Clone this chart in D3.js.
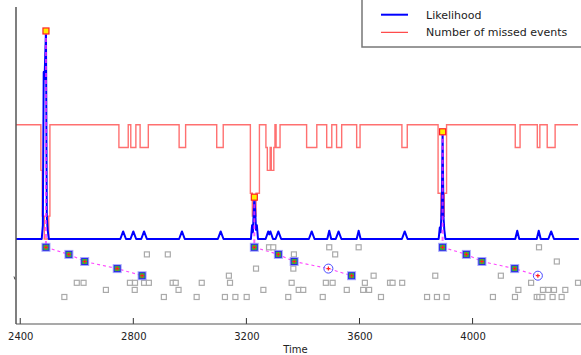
<!DOCTYPE html>
<html>
<head>
<meta charset="utf-8">
<script src="https://cdn.jsdelivr.net/npm/d3@7"></script>
<style>
  html, body { margin: 0; padding: 0; background: #fff; }
  svg { display: block; font-family: "DejaVu Sans", sans-serif; }
</style>
</head>
<body>
<svg id="chart" width="581" height="355"></svg>
<script>
// Time ticks on the x axis
const timeTicks = [2400, 2800, 3200, 3600, 4000];

// Likelihood trace: [time, likelihood]
const likelihood = [
  [2385, 0],
  [2476, 0], [2480, 0.6], [2483, 7.3], [2486, 7.0], [2491, 9.1], [2494, 1.0], [2497, 0.4], [2501, 0],
  [2754, 0], [2764, 0.33], [2774, 0],
  [2790, 0], [2800, 0.33], [2810, 0],
  [2828, 0], [2838, 0.33], [2848, 0],
  [2962, 0], [2972, 0.33], [2982, 0],
  [3099, 0], [3109, 0.33], [3119, 0],
  [3216, 0], [3220, 0.6], [3223, 0.3], [3228, 1.83], [3231, 1.25], [3234, 0.4], [3237, 0.6], [3241, 0],
  [3268, 0], [3277, 0.33], [3281, 0.2], [3285, 0.33], [3294, 0],
  [3303, 0], [3313, 0.33], [3323, 0],
  [3421, 0], [3431, 0.33], [3441, 0],
  [3486, 0], [3493, 0.36], [3500, 0],
  [3516, 0], [3526, 0.33], [3536, 0],
  [3590, 0], [3597, 0.36], [3604, 0],
  [3750, 0], [3760, 0.33], [3770, 0],
  [3880, 0], [3884, 0.5], [3887, 0.3], [3891, 1.4], [3894, 4.69], [3897, 1.0], [3900, 0.4], [3904, 0],
  [4151, 0], [4158, 0.36], [4165, 0],
  [4227, 0], [4234, 0.36], [4241, 0],
  [4268, 0], [4278, 0.33], [4288, 0],
  [4376, 0]
];

// Number of missed events, as a step series: [time, count from this time on]
const missedEvents = [
  [2385, 5], [2473, 3], [2478, 1], [2485, 0], [2501, 1], [2505, 5],
  [2749, 4], [2782, 5], [2791, 4], [2809, 5], [2824, 4], [2853, 5],
  [2962, 4], [2985, 5], [3095, 4], [3118, 5],
  [3214, 2], [3221, 1], [3234, 2], [3246, 5],
  [3269, 4], [3274, 3], [3284, 4], [3288, 3], [3297, 4], [3301, 5], [3305, 4], [3319, 5],
  [3413, 4], [3449, 5], [3484, 4], [3502, 5], [3519, 4], [3537, 5], [3590, 4], [3602, 5],
  [3750, 4], [3769, 5],
  [3878, 2], [3888, 1], [3900, 2], [3908, 5],
  [4151, 4], [4168, 5], [4229, 4], [4238, 5], [4264, 4], [4292, 5], [4373, 5]
];

// Detected event chains: times, one per row, and the likelihood peak that starts each chain
const chainTimes = [
  [2491, 2572, 2628, 2743, 2831],
  [3228, 3313, 3369, 3490, 3572],
  [3894, 3978, 4033, 4149, 4231]
];
const chainMissed = [
  [false, false, false, false, false],
  [false, false, false, true, false],
  [false, false, false, false, true]
];
const chainPeaks = [9.1, 1.83, 4.69];

// Other candidate events: [time, row]
const candidates = [
  [2848, 1], [2922, 1], [2600, 5], [2624, 5], [2703, 6], [2788, 5], [2806, 5], [2805, 6],
  [2838, 5], [2855, 5], [2939, 5], [2950, 5], [2960, 6], [2556, 7], [2908, 7], [3024, 7],
  [3042, 5],
  [3280, 0], [3295, 0], [3368, 1], [3234, 3], [3366, 3], [3138, 4], [3142, 5], [3360, 5],
  [3481, 5], [3505, 5], [3619, 5], [3260, 6], [3385, 6], [3401, 6], [3555, 6], [3613, 6],
  [3634, 6], [3124, 7], [3161, 7], [3201, 7], [3348, 7], [3470, 7], [3676, 7], [3493, 0],
  [3514, 1], [3597, 0], [3650, 4], [3708, 5],
  [4235, 0], [4298, 2], [3868, 4], [4100, 4], [3717, 5], [3751, 5], [4207, 5], [4373, 5],
  [4162, 6], [4249, 6], [4268, 6], [4288, 6], [4328, 6], [3839, 7], [3874, 7], [3908, 7],
  [4072, 7], [4150, 7], [4227, 7], [4236, 7], [4247, 7], [4283, 7], [4315, 7]
];

const legendItems = ["Likelihood", "Number of missed events"];

const svg = d3.select("#chart");
const plotLeft = 16, plotRight = 580, plotTop = 7, plotBottom = 324;

const x = d3.scaleLinear().domain([2385, 4380]).range([plotLeft, plotRight]);
const y = d3.scaleLinear().domain([0, 5]).range([239, 124.7]);
const row = d3.scaleLinear().domain([0, 7]).range([247.3, 297]);

// Missed-events step line
svg.append("path")
  .datum(missedEvents)
  .attr("fill", "none")
  .attr("stroke", "#ff4040")
  .attr("stroke-opacity", 0.75)
  .attr("stroke-width", 1.4)
  .attr("d", d3.line().x(d => x(d[0])).y(d => y(d[1])).curve(d3.curveStepAfter));

// Likelihood line
svg.append("path")
  .datum(likelihood)
  .attr("fill", "none")
  .attr("stroke", "#0000ff")
  .attr("stroke-width", 2)
  .attr("stroke-linejoin", "round")
  .attr("d", d3.line().x(d => x(d[0])).y(d => y(d[1])));

// Chain links: from each peak down to its first event, then along the rows
chainTimes.forEach((times, i) => {
  svg.append("line")
    .attr("x1", x(times[0])).attr("x2", x(times[0]))
    .attr("y1", y(chainPeaks[i])).attr("y2", row(0))
    .attr("stroke", "#ff33ff")
    .attr("stroke-opacity", 0.75)
    .attr("stroke-width", 2)
    .attr("stroke-dasharray", "4,3");
  svg.append("path")
    .datum(times)
    .attr("fill", "none")
    .attr("stroke", "#ff44ff")
    .attr("stroke-width", 1.1)
    .attr("stroke-dasharray", "3,3")
    .attr("d", d3.line().x(d => x(d)).y((d, j) => row(j)));
});

// Candidate events
svg.append("g").selectAll("rect")
  .data(candidates)
  .join("rect")
  .attr("x", d => x(d[0]) - 2.5)
  .attr("y", d => row(d[1]) - 2.5)
  .attr("width", 5).attr("height", 5)
  .attr("fill", "#fff")
  .attr("stroke", "#aaaaaa")
  .attr("stroke-width", 1.2);

// Chain events
chainTimes.forEach((times, i) => {
  times.forEach((t, j) => {
    const cx = x(t), cy = row(j);
    const g = svg.append("g");
    if (chainMissed[i][j]) {
      g.append("circle").attr("cx", cx).attr("cy", cy).attr("r", 4.5)
        .attr("fill", "#fff").attr("fill-opacity", 0.6)
        .attr("stroke", "#4a4aff").attr("stroke-width", 1);
    } else {
      g.append("rect").attr("x", cx - 4.5).attr("y", cy - 4.5).attr("width", 9).attr("height", 9)
        .attr("fill", "#8080ff").attr("fill-opacity", 0.7);
      g.append("rect").attr("x", cx - 3).attr("y", cy - 3).attr("width", 6).attr("height", 6)
        .attr("fill", "#33bb33").attr("stroke", "#2a2ae6").attr("stroke-width", 1);
    }
    g.append("path")
      .attr("d", `M${cx - 2},${cy}H${cx + 2}M${cx},${cy - 2}V${cy + 2}`)
      .attr("stroke", "#ff2020").attr("stroke-width", 1.2);
  });
  // Peak marker
  svg.append("rect")
    .attr("x", x(times[0]) - 3).attr("y", y(chainPeaks[i]) - 3)
    .attr("width", 6).attr("height", 6)
    .attr("fill", "#ffee00").attr("stroke", "#ff2020").attr("stroke-width", 1.2);
});

// Axes
const xAxis = d3.axisBottom(x).tickValues(timeTicks).tickSize(0).tickPadding(9).tickFormat(d3.format("d"));
const gx = svg.append("g").attr("transform", `translate(0,${plotBottom})`).call(xAxis);
gx.select(".domain").remove();
gx.selectAll("text").attr("font-size", 10).attr("fill", "#222").attr("font-family", "DejaVu Sans, sans-serif");
svg.append("g").selectAll("line").data(timeTicks).join("line")
  .attr("x1", d => x(d)).attr("x2", d => x(d))
  .attr("y1", plotBottom - 6).attr("y2", plotBottom)
  .attr("stroke", "#333").attr("stroke-width", 1);
svg.append("line").attr("x1", plotLeft).attr("x2", 581).attr("y1", plotBottom).attr("y2", plotBottom)
  .attr("stroke", "#555").attr("stroke-width", 1.2);
svg.append("line").attr("x1", plotLeft).attr("x2", plotLeft).attr("y1", plotTop).attr("y2", plotBottom)
  .attr("stroke", "#555").attr("stroke-width", 1.5);
svg.append("line").attr("x1", plotLeft - 2).attr("x2", plotLeft - 1).attr("y1", 276.5).attr("y2", 279.5)
  .attr("stroke", "#444").attr("stroke-width", 1);
svg.append("text").attr("x", (plotLeft + 581) / 2 - 3).attr("y", 353)
  .attr("text-anchor", "middle").attr("font-size", 10).attr("fill", "#222").text("Time");

// Legend
const lg = svg.append("g");
lg.append("rect").attr("x", 362).attr("y", -2).attr("width", 222).attr("height", 49)
  .attr("fill", "#fff").attr("stroke", "#777").attr("stroke-width", 1.5);
lg.append("line").attr("x1", 381).attr("x2", 408).attr("y1", 14.7).attr("y2", 14.7)
  .attr("stroke", "#0000ff").attr("stroke-width", 2);
lg.append("line").attr("x1", 381).attr("x2", 408).attr("y1", 32.3).attr("y2", 32.3)
  .attr("stroke", "#ff2020").attr("stroke-width", 1);
lg.selectAll("text").data(legendItems).join("text")
  .attr("x", 426).attr("y", (d, i) => 18.8 + i * 17.6)
  .attr("font-size", 11).attr("fill", "#222").text(d => d);
</script>
</body>
</html>
